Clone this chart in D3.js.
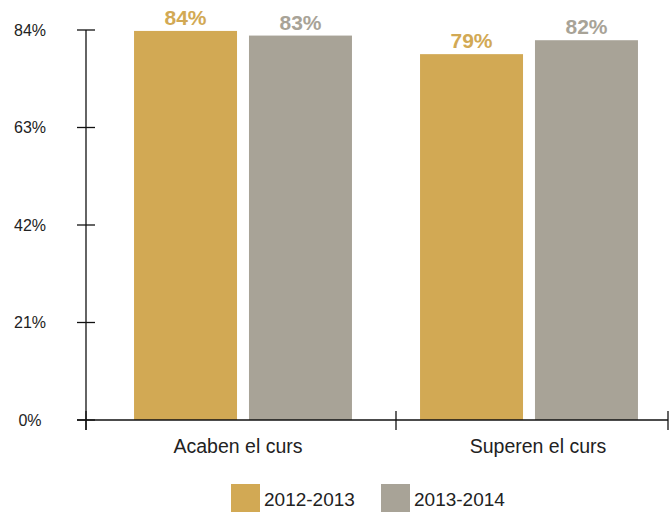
<!DOCTYPE html>
<html>
<head>
<meta charset="utf-8">
<script src="https://cdn.jsdelivr.net/npm/d3@7"></script>
<style>
  html, body { margin: 0; padding: 0; background: #fff; }
  svg { display: block; }
</style>
</head>
<body>
<div id="chart"></div>
<script>
// ── Data ──────────────────────────────────────────────────────
const categories = ['Acaben el curs', 'Superen el curs'];
const series = ['2012-2013', '2013-2014'];
const values2012 = [83.8, 78.8];
const values2013 = [82.8, 81.8];
const yTicks = [0, 21, 42, 63, 84];

const COLORS = { '2012-2013': '#D2A954', '2013-2014': '#A8A397' };
const FONT = '"Liberation Sans", Arial, Helvetica, sans-serif';

const W = 671, H = 512;
const svg = d3.select('#chart').append('svg').attr('width', W).attr('height', H);

// ── Scales ────────────────────────────────────────────────────
const y = d3.scaleLinear().domain([0, 84]).range([420, 30]);
const x0 = d3.scaleBand().domain(categories).range([100, 672])
  .paddingInner(0.238).paddingOuter(0.119);
const x1 = d3.scaleBand().domain(series).range([0, x0.bandwidth()]).paddingInner(0.104);

const rows = categories.map((c, i) => ({
  cat: c,
  vals: [
    { s: series[0], v: values2012[i] },
    { s: series[1], v: values2013[i] },
  ],
}));

// ── Bars + labels ─────────────────────────────────────────────
const grp = svg.append('g').selectAll('g').data(rows).join('g')
  .attr('transform', d => `translate(${x0(d.cat)},0)`);

grp.selectAll('rect').data(d => d.vals).join('rect')
  .attr('x', d => x1(d.s))
  .attr('y', d => y(d.v))
  .attr('width', x1.bandwidth())
  .attr('height', d => y(0) - y(d.v))
  .attr('fill', d => COLORS[d.s]);

grp.selectAll('text').data(d => d.vals).join('text')
  .attr('x', d => x1(d.s) + x1.bandwidth() / 2)
  .attr('y', d => y(d.v) - 6)
  .attr('text-anchor', 'middle')
  .attr('font-family', FONT)
  .attr('font-weight', 'bold')
  .attr('font-size', '21px')
  .attr('fill', d => COLORS[d.s])
  .text(d => Math.round(d.v) + '%');

// ── Axes ──────────────────────────────────────────────────────
const AX = 86;
const axis = svg.append('g').attr('stroke', '#111').attr('stroke-width', 1.3);
axis.append('line').attr('x1', AX).attr('x2', AX).attr('y1', y(84)).attr('y2', y(0) + 10);
axis.append('line').attr('x1', AX - 9).attr('x2', 668).attr('y1', y(0)).attr('y2', y(0));

axis.selectAll('.yt').data(yTicks).join('line').attr('class', 'yt')
  .attr('x1', AX - 9).attr('x2', AX + 9)
  .attr('y1', d => y(d)).attr('y2', d => y(d));

const xDividers = [AX, 396, 668];
axis.selectAll('.xt').data(xDividers).join('line').attr('class', 'xt')
  .attr('x1', d => d).attr('x2', d => d)
  .attr('y1', y(0) - 9).attr('y2', y(0) + 10);

svg.append('g').selectAll('text').data(yTicks).join('text')
  .attr('x', 30)
  .attr('y', d => y(d))
  .attr('dy', '0.35em')
  .attr('text-anchor', 'middle')
  .attr('font-family', FONT)
  .attr('font-size', '16px')
  .attr('fill', '#222')
  .text(d => d + '%');

// category labels sit slightly off the band centres in the original
const catOffset = [-5, 9];
svg.append('g').selectAll('text').data(categories).join('text')
  .attr('x', (d, i) => x0(d) + x0.bandwidth() / 2 + catOffset[i])
  .attr('y', 453)
  .attr('text-anchor', 'middle')
  .attr('font-family', FONT)
  .attr('font-size', '19.5px')
  .attr('fill', '#222')
  .text(d => d);

// ── Legend ────────────────────────────────────────────────────
const legendX = [231, 381];
const legend = svg.append('g').selectAll('g').data(series).join('g')
  .attr('transform', (d, i) => `translate(${legendX[i]},484)`);
legend.append('rect').attr('width', 29).attr('height', 28).attr('fill', d => COLORS[d]);
legend.append('text')
  .attr('x', 33).attr('y', 22)
  .attr('font-family', FONT)
  .attr('font-size', '19px')
  .attr('fill', '#222')
  .text(d => d);
</script>
</body>
</html>
